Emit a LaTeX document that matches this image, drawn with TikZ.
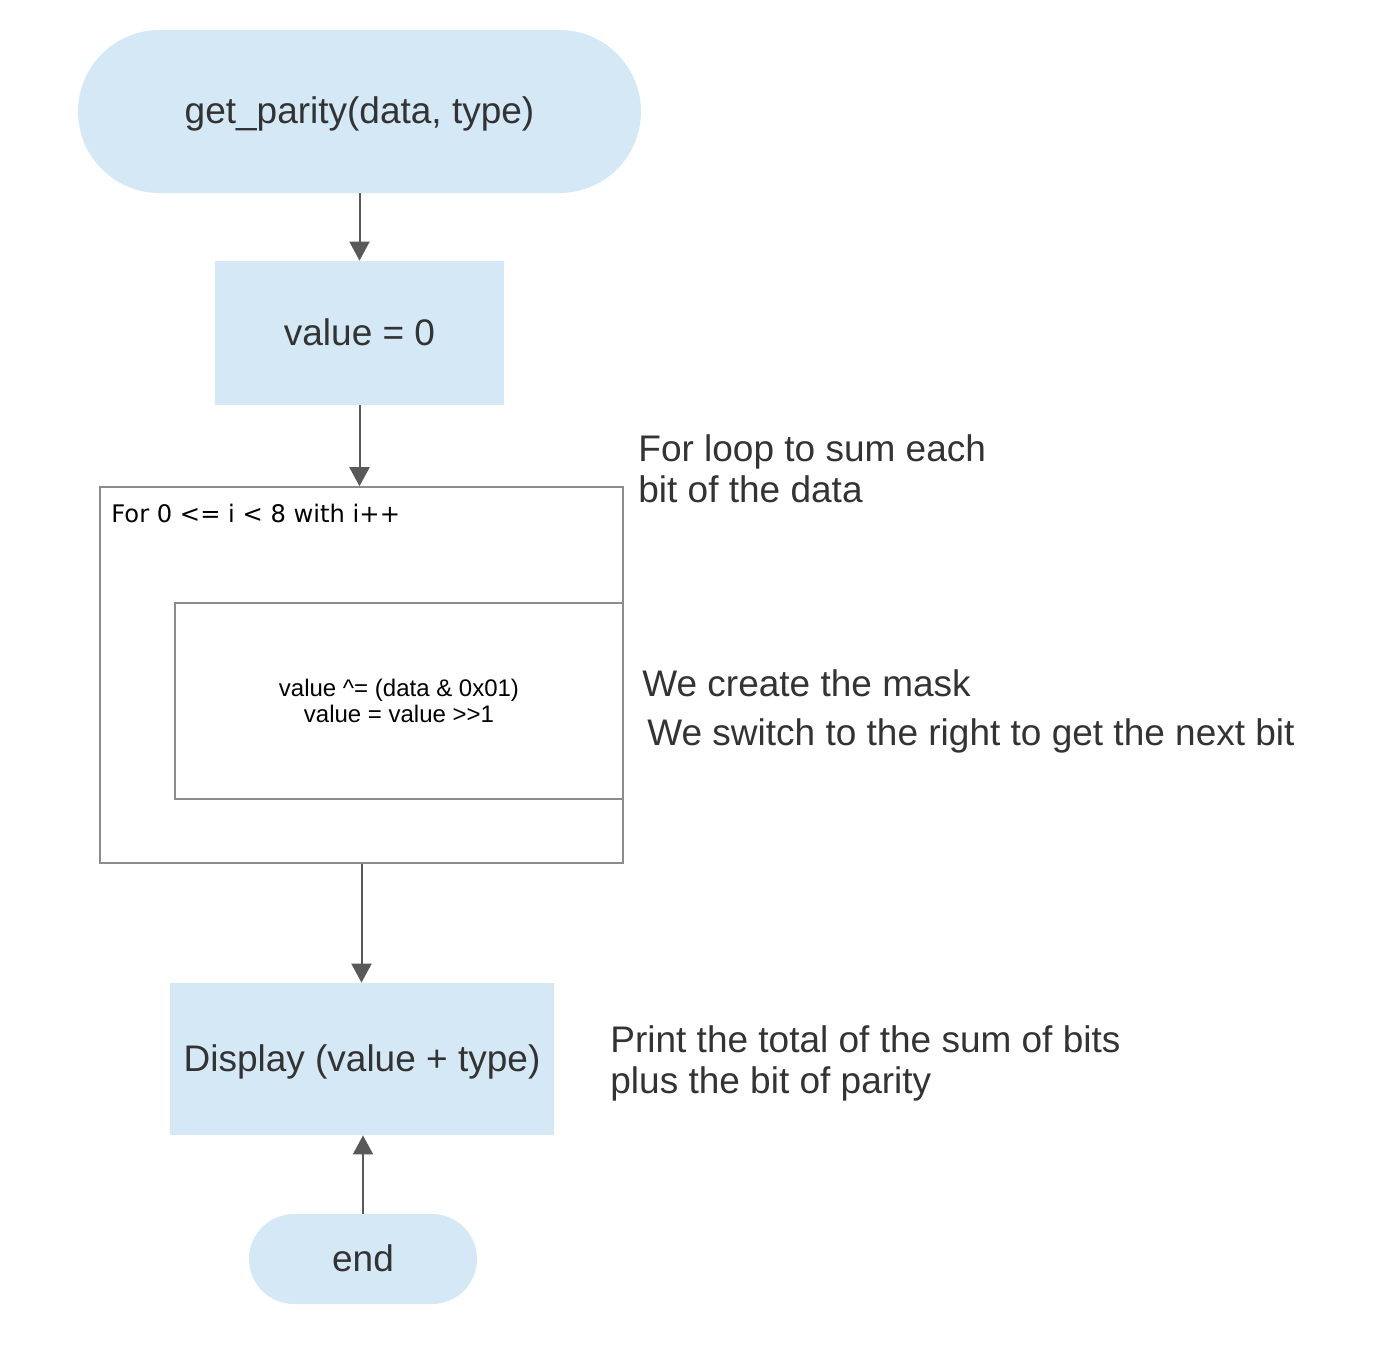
\documentclass[tikz,border=0pt]{standalone}
\usepackage{fontspec}
\setmainfont{Liberation Sans}
\newfontfamily\loopfont{DejaVu Sans}
\usepackage{tikz}
\usetikzlibrary{arrows.meta}
\definecolor{boxblue}{HTML}{D5E8F5}
\definecolor{textgrey}{HTML}{333333}
\definecolor{linegrey}{HTML}{595959}
\definecolor{framegrey}{HTML}{8C8C8C}

\begin{document}
\begin{tikzpicture}
		[x=0.5pt,y=-0.5pt,
		every node/.style={text=textgrey,font=\fontsize{18.5}{20.5}\selectfont},
		block/.style={rectangle,fill=boxblue,inner sep=0pt,text depth=0.2ex},
		frame/.style={rectangle,draw=framegrey,line width=0.8pt,inner sep=0pt},
		note/.style={anchor=west,align=left,inner sep=0pt},
		edge/.style={-{Triangle[length=9.5pt,width=10pt]},draw=linegrey,fill=linegrey,line width=1pt}]
		\useasboundingbox (0,0) rectangle (1382,1356);
		\node[block,rounded corners=40.75pt,minimum width=281.5pt,minimum height=81.5pt] (start) at (359.5,111.5) {get\_parity(data, type)};
		\node[block,minimum width=144.5pt,minimum height=72pt] (value0) at (359.5,333) {value = 0};
		\node[frame,minimum width=261.5pt,minimum height=188pt] (forloop) at (361.5,675) {};
		\node[anchor=west,inner sep=0pt,text=black,font=\loopfont\fontsize{12.1}{14}\selectfont] (forlabel) at (111,513) {For 0 <= i < 8 with i++};
		\node[frame,minimum width=224pt,minimum height=98pt,align=center,text=black,font=\fontsize{12}{13}\selectfont] (body) at (399,701) {value \^{}= (data \& 0x01)\\value = value {>}{>}1};
		\node[block,minimum width=192pt,minimum height=76pt] (display) at (362,1059) {Display (value + type)};
		\node[block,rounded corners=22.5pt,minimum width=114pt,minimum height=45pt] (end) at (363,1259) {end};

		\node[note] (note1) at (638,469) {For loop to sum each\\bit of the data};
		\node[note] (note2) at (642,683) {We create the mask};
		\node[note] (note3) at (647,736) {We switch to the right to get the next bit};
		\node[note] (note4) at (610,1063) {Print the total of the sum of bits\\plus the bit of parity};

		\foreach \from/\to in {start/value0,value0/forloop,forloop/display}
		\draw[edge] (\from.south) -- (\from.south |- \to.north);
		\draw[edge] (end.north) -- (end.north |- display.south);
\end{tikzpicture}
\end{document}
